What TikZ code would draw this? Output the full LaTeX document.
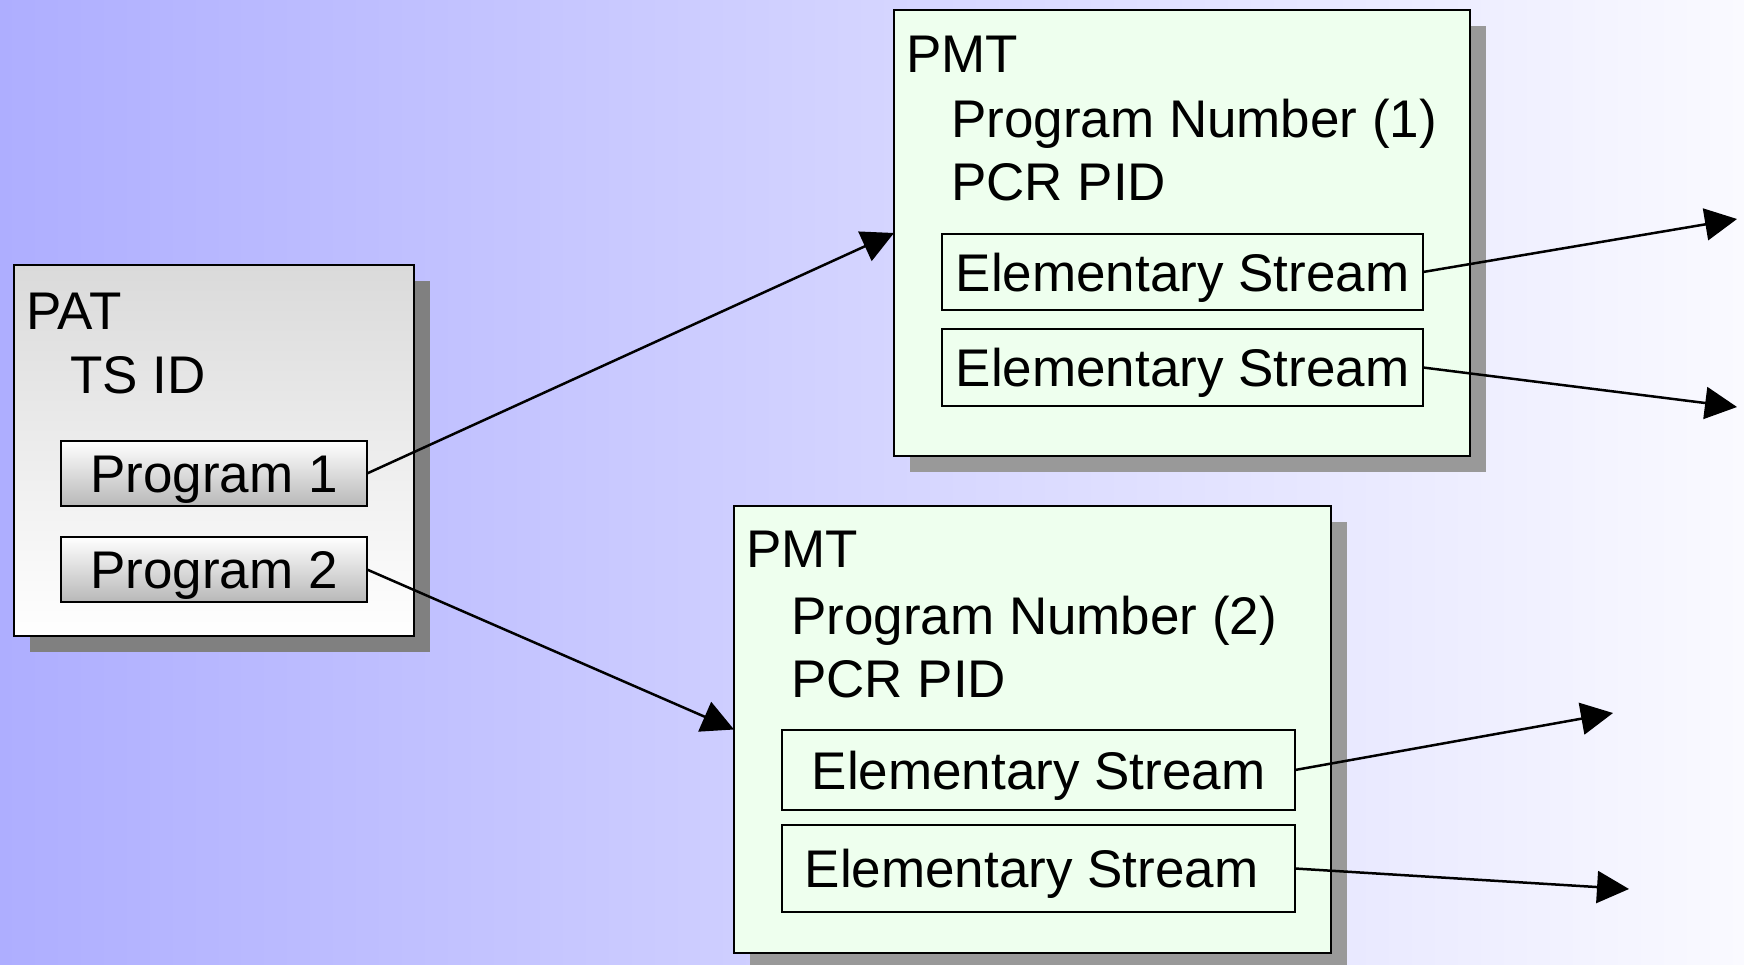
\documentclass[tikz,border=0pt]{standalone}
\usepackage{fontspec}
\setmainfont{Liberation Sans}
\usetikzlibrary{arrows.meta,shadows}
\definecolor{bgleft}{RGB}{174,174,255}
\definecolor{bgright}{RGB}{250,250,255}
\definecolor{pmtfill}{RGB}{238,255,238}
\definecolor{pattop}{RGB}{218,218,218}
\definecolor{btnbot}{RGB}{184,184,184}
\begin{document}
\begin{tikzpicture}[x=1pt,y=-1pt,
  bigfont/.style={font=\fontsize{53}{60}\selectfont},
  box/.style={draw=black,line width=2.5pt,anchor=north west,inner sep=0pt,outer sep=0pt},
  patbox/.style={box,top color=pattop,bottom color=white,
     drop shadow={shadow xshift=16pt,shadow yshift=-16pt,fill=black!50,opacity=1}},
  pmtbox/.style={box,fill=pmtfill,
     drop shadow={shadow xshift=16pt,shadow yshift=-16pt,fill=black!40,opacity=1}},
  progbox/.style={box,bigfont,top color=white,bottom color=btnbot,text height=38pt,text depth=0pt},
  esbox/.style={box,bigfont,fill=pmtfill,text height=38pt,text depth=0pt},
  lbl/.style={bigfont,anchor=base west,inner sep=0pt},
  conn/.style={line width=2.5pt,-{Triangle[length=32pt,width=32pt]}}
]
\shade[left color=bgleft,right color=bgright] (0,0) rectangle (1744,964);
\useasboundingbox (0,0) rectangle (1744,964);

% PAT
\node[patbox,minimum width=400pt,minimum height=371pt] (pat) at (14,265) {};
\node[lbl] (pattitle) at (26,329) {PAT};
\node[lbl] (tsid) at (70,393) {TS ID};
\node[progbox,minimum width=306pt,minimum height=65pt] (prog1) at (61,441) {Program 1};
\node[progbox,minimum width=306pt,minimum height=65pt] (prog2) at (61,537) {Program 2};

% PMT 1
\node[pmtbox,minimum width=576pt,minimum height=446pt] (pmt1) at (894,10) {};
\node[lbl] (pmt1title) at (906,72) {PMT};
\node[lbl] (pn1) at (951,137) {Program Number (1)};
\node[lbl] (pcr1) at (951,200) {PCR PID};
\node[esbox,minimum width=481pt,minimum height=76pt] (es1) at (942,234) {Elementary Stream};
\node[esbox,minimum width=481pt,minimum height=77pt] (es2) at (942,329) {Elementary Stream};

% PMT 2
\node[pmtbox,minimum width=597pt,minimum height=447pt] (pmt2) at (734,506) {};
\node[lbl] (pmt2title) at (746,567) {PMT};
\node[lbl] (pn2) at (791,634) {Program Number (2)};
\node[lbl] (pcr2) at (791,697) {PCR PID};
\node[esbox,minimum width=513pt,minimum height=80pt] (es3) at (782,730) {Elementary Stream};
\node[esbox,minimum width=513pt,minimum height=87pt] (es4) at (782,825) {\hspace*{-14pt}Elementary Stream};

% output ends
\coordinate (o1) at (1737,219);
\coordinate (o2) at (1737,407);
\coordinate (o3) at (1613,713);
\coordinate (o4) at (1629,889);

% connectors
\draw[conn] (prog1.east) -- (pmt1.west);
\draw[conn] (prog2.east) -- (pmt2.west);
\draw[conn] (es1.east) -- (o1);
\draw[conn] (es2.east) -- (o2);
\draw[conn] (es3.east) -- (o3);
\draw[conn] (es4.east) -- (o4);
\end{tikzpicture}
\end{document}
